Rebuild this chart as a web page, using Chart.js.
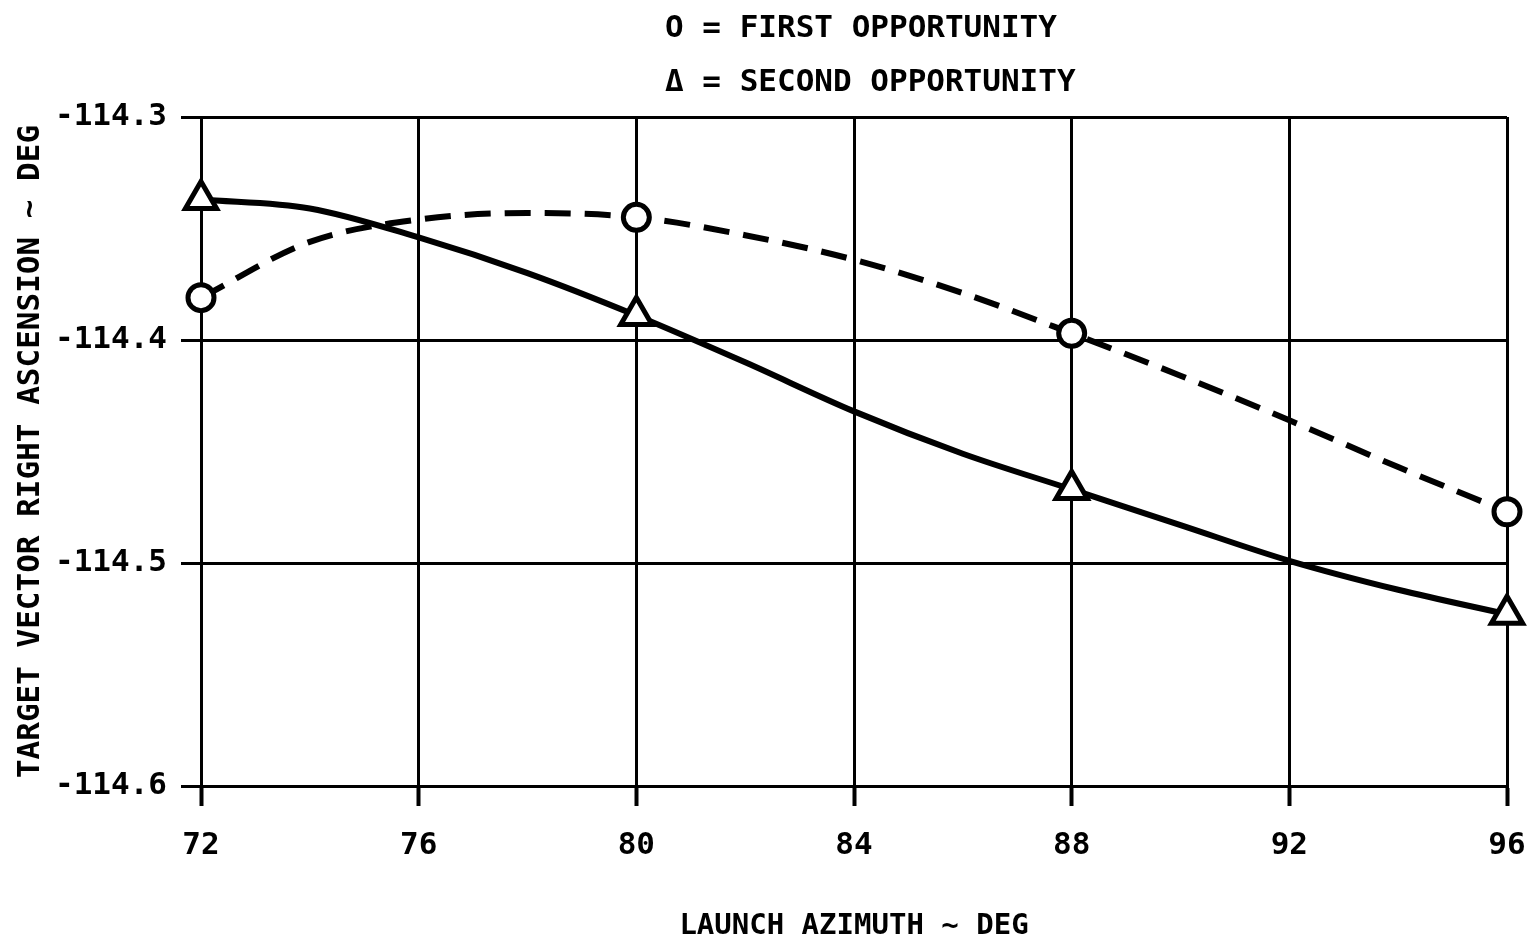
<!DOCTYPE html>
<html>
<head>
<meta charset="utf-8">
<title>Target vector right ascension</title>
<script src="https://cdn.jsdelivr.net/npm/chart.js@4.4.0/dist/chart.umd.min.js"></script>
<style>
  html, body { margin: 0; padding: 0; background: #fff; }
  canvas { display: block; }
</style>
</head>
<body>
<canvas id="grafico" width="1539" height="949"></canvas>
<script>
// launch azimuth (deg) where the faired curves were read
const azimuthCurve = [72, 74, 76, 78, 80, 82, 84, 86, 88, 90, 92, 94, 96];
// first opportunity, dashed curve
const firstCurve = [-114.381, -114.356, -114.346, -114.343, -114.345, -114.353, -114.364,
                    -114.379, -114.397, -114.416, -114.436, -114.457, -114.477];
// second opportunity, solid curve
const secondCurve = [-114.337, -114.341, -114.354, -114.370, -114.389, -114.410, -114.432,
                     -114.451, -114.467, -114.483, -114.499, -114.512, -114.523];

// computed cases (symbols)
const azimuthMarks = [72, 80, 88, 96];
const firstMarks = [-114.381, -114.345, -114.397, -114.477];
const secondMarks = [-114.337, -114.389, -114.467, -114.523];

const xTicks = [72, 76, 80, 84, 88, 92, 96];
const yTicks = [-114.6, -114.5, -114.4, -114.3];

const legendLines = ['O = FIRST OPPORTUNITY', '\u0394 = SECOND OPPORTUNITY'];
const xTitle = 'LAUNCH AZIMUTH ~ DEG';
const yTitle = 'TARGET VECTOR RIGHT ASCENSION ~ DEG';

const FONTE = "'DejaVu Sans Mono', monospace";
const pares = (xs, ys) => xs.map((x, i) => ({ x: x, y: ys[i] }));

// legend text drawn above the grid
const legendaTexto = {
  id: 'legendaTexto',
  afterDraw(chart) {
    const ctx = chart.ctx;
    const x = chart.chartArea.left + 464;
    ctx.save();
    ctx.fillStyle = '#000';
    ctx.font = 'bold 31px ' + FONTE;
    ctx.textAlign = 'left';
    ctx.textBaseline = 'middle';
    ctx.fillText(legendLines[0], x, 29);
    ctx.fillText(legendLines[1], x, 83);
    ctx.restore();
  }
};

const ctx = document.getElementById('grafico').getContext('2d');
new Chart(ctx, {
  type: 'line',
  data: {
    datasets: [{
      label: 'FIRST OPPORTUNITY marks',
      data: pares(azimuthMarks, firstMarks),
      showLine: false,
      pointStyle: 'circle',
      pointRadius: 13,
      pointBorderWidth: 5,
      pointBackgroundColor: '#fff',
      pointBorderColor: '#000',
      order: 0,
      clip: false
    }, {
      label: 'SECOND OPPORTUNITY marks',
      data: pares(azimuthMarks, secondMarks),
      showLine: false,
      pointStyle: 'triangle',
      pointRadius: 18,
      pointBorderWidth: 5,
      pointBackgroundColor: '#fff',
      pointBorderColor: '#000',
      order: 0,
      clip: false
    }, {
      label: 'FIRST OPPORTUNITY',
      data: pares(azimuthCurve, firstCurve),
      borderColor: '#000',
      borderWidth: 6,
      borderDash: [26, 14],
      pointRadius: 0,
      cubicInterpolationMode: 'monotone',
      order: 1,
      clip: false
    }, {
      label: 'SECOND OPPORTUNITY',
      data: pares(azimuthCurve, secondCurve),
      borderColor: '#000',
      borderWidth: 6,
      pointRadius: 0,
      cubicInterpolationMode: 'monotone',
      order: 1,
      clip: false
    }]
  },
  options: {
    responsive: false,
    animation: false,
    layout: { padding: { top: 117, right: 32, left: 0, bottom: 0 } },
    plugins: {
      legend: { display: false },
      tooltip: { enabled: false }
    },
    scales: {
      x: {
        type: 'linear',
        min: xTicks[0],
        max: xTicks[xTicks.length - 1],
        afterBuildTicks: axis => { axis.ticks = xTicks.map(v => ({ value: v })); },
        afterFit: axis => {
          axis.height = 949 - 786;
          axis.paddingLeft = 0;
          axis.paddingRight = 0;
        },
        grid: { color: '#000', lineWidth: 3, tickLength: 20, tickColor: '#000', tickWidth: 4 },
        border: { color: '#000', width: 3 },
        ticks: {
          color: '#000',
          padding: 21,
          maxRotation: 0,
          font: { family: FONTE, size: 31, weight: 'bold' },
          callback: v => String(v)
        },
        title: {
          display: true,
          text: xTitle,
          color: '#000',
          font: { family: FONTE, size: 29, weight: 'bold' },
          padding: { top: 0, bottom: 5 }
        }
      },
      y: {
        min: yTicks[0],
        max: yTicks[yTicks.length - 1],
        afterBuildTicks: axis => { axis.ticks = yTicks.map(v => ({ value: v })); },
        afterFit: axis => { axis.width = 201; },
        grid: { color: '#000', lineWidth: 3, tickLength: 20, tickColor: '#000', tickWidth: 3 },
        border: { color: '#000', width: 3 },
        ticks: {
          color: '#000',
          padding: 14,
          font: { family: FONTE, size: 31, weight: 'bold' },
          callback: v => v.toFixed(1)
        },
        title: {
          display: true,
          text: yTitle,
          color: '#000',
          font: { family: FONTE, size: 31, weight: 'bold' },
          padding: { top: 12, bottom: 0 }
        }
      }
    }
  },
  plugins: [legendaTexto]
});
</script>
</body>
</html>
